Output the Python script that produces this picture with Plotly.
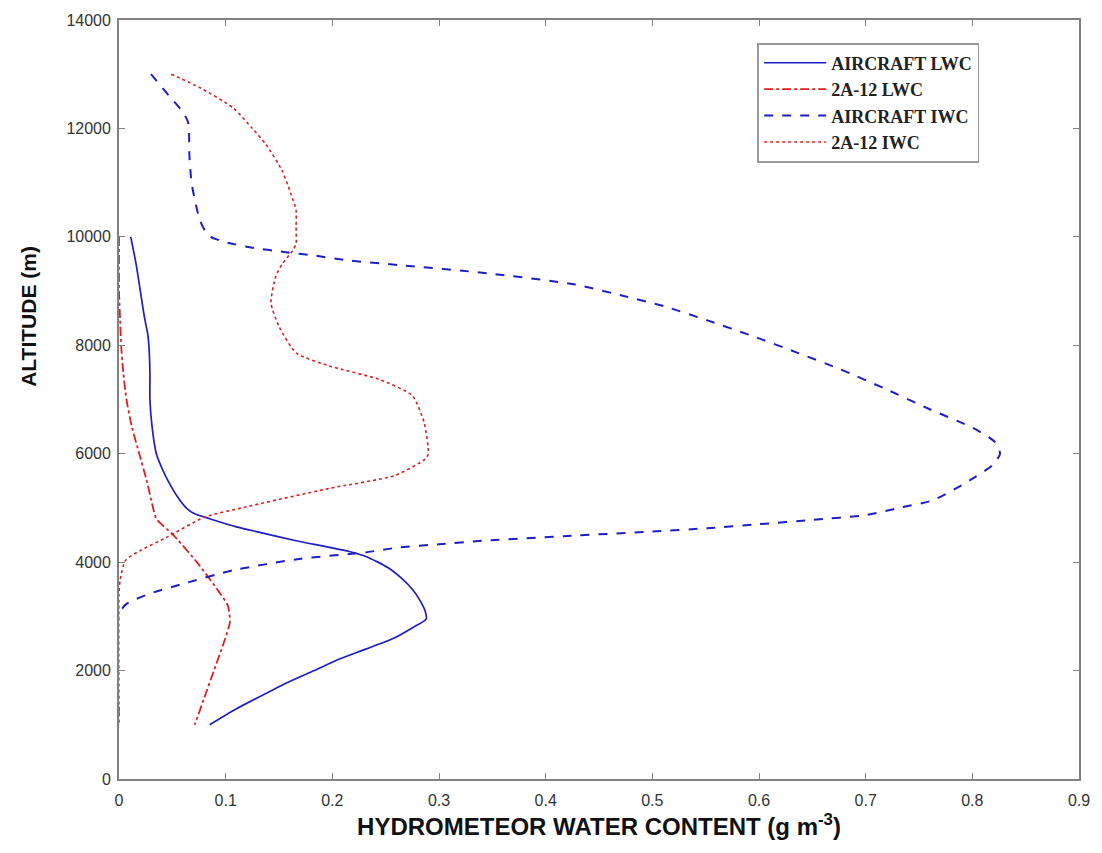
import plotly.graph_objects as go

# Aircraft-measured liquid water content profile (g m^-3 vs altitude m)
air_lwc_alt = [10000, 9500, 9000, 8500, 8200, 8000, 7500, 7000, 6500, 6000, 5700, 5500,
               5200, 5000, 4900, 4800, 4650, 4550, 4400, 4200, 4100, 3900, 3700, 3500,
               3300, 3100, 2950, 2800, 2600, 2400, 2200, 2000, 1800, 1500, 1250, 1000]
air_lwc_val = [0.011, 0.016, 0.020, 0.024, 0.027, 0.028, 0.029, 0.029, 0.031, 0.035, 0.041, 0.046,
               0.055, 0.063, 0.070, 0.085, 0.110, 0.132, 0.165, 0.215, 0.232, 0.252, 0.265, 0.275,
               0.282, 0.287, 0.288, 0.276, 0.258, 0.232, 0.205, 0.183, 0.160, 0.130, 0.106, 0.085]

# 2A-12 retrieved liquid water content profile
tr_lwc_alt = [10000, 9500, 9000, 8500, 8000, 7500, 7000, 6500, 6000, 5500, 5000, 4800,
              4500, 4000, 3500, 3200, 2900, 2500, 2000, 1500, 1000]
tr_lwc_val = [0.0, 0.0, 0.0, 0.001, 0.002, 0.004, 0.007, 0.012, 0.019, 0.026, 0.032, 0.035,
              0.051, 0.073, 0.092, 0.102, 0.104, 0.098, 0.089, 0.080, 0.071]

# Aircraft-measured ice water content profile
air_iwc_alt = [13000, 12600, 12300, 12100, 11500, 11000, 10600, 10300, 10100, 10000, 9900, 9800,
               9725, 9650, 9571, 9480, 9330, 9120, 8900, 8720, 8450, 8170, 7870, 7560, 7200,
               6830, 6470, 6220, 6000, 5790, 5550, 5420, 5140, 5000, 4870, 4780, 4700, 4625,
               4565, 4490, 4400, 4330, 4270, 4180, 4060, 3850, 3600, 3420, 3230, 3050, 1000]
air_iwc_val = [0.030, 0.047, 0.060, 0.065, 0.066, 0.068, 0.072, 0.076, 0.081, 0.086, 0.100, 0.125,
               0.153, 0.185, 0.2125, 0.262, 0.345, 0.428, 0.475, 0.511, 0.553, 0.594, 0.635, 0.676, 0.718,
               0.759, 0.801, 0.821, 0.826, 0.819, 0.801, 0.790, 0.763, 0.731, 0.701, 0.651, 0.600, 0.551,
               0.500, 0.428, 0.345, 0.300, 0.262, 0.231, 0.169, 0.107, 0.060, 0.029, 0.007, 0.0, 0.0]

# 2A-12 retrieved ice water content profile
tr_iwc_alt = [13000, 12750, 12380, 12000, 11700, 11220, 10800, 10490, 10180, 9880, 9750, 9500,
              9270, 8780, 8350, 7860, 7620, 7370, 7070, 6580, 6000, 5900, 5600, 5360, 5000,
              4830, 4460, 4215, 4030, 3660, 3400, 1000]
tr_iwc_val = [0.049, 0.076, 0.107, 0.125, 0.138, 0.153, 0.161, 0.166, 0.166, 0.166, 0.163, 0.153,
              0.147, 0.1425, 0.150, 0.166, 0.197, 0.244, 0.275, 0.286, 0.290, 0.287, 0.259, 0.197, 0.115,
              0.080, 0.045, 0.020, 0.006, 0.001, 0.0, 0.0]

BLUE = "rgb(30,30,195)"
RED = "rgb(225,30,30)"
SMOOTH = 0.6

fig = go.Figure()
fig.add_trace(go.Scatter(x=air_lwc_val, y=air_lwc_alt, mode="lines", name="AIRCRAFT LWC",
                         line=dict(color=BLUE, width=1.7, dash="solid", shape="spline", smoothing=SMOOTH)))
fig.add_trace(go.Scatter(x=tr_lwc_val, y=tr_lwc_alt, mode="lines", name="2A-12 LWC",
                         line=dict(color=RED, width=1.8, dash="dashdot", shape="spline", smoothing=SMOOTH)))
fig.add_trace(go.Scatter(x=air_iwc_val, y=air_iwc_alt, mode="lines", name="AIRCRAFT IWC",
                         line=dict(color=BLUE, width=2, dash="dash", shape="spline", smoothing=SMOOTH)))
fig.add_trace(go.Scatter(x=tr_iwc_val, y=tr_iwc_alt, mode="lines", name="2A-12 IWC",
                         line=dict(color=RED, width=1.6, dash="dot", shape="spline", smoothing=SMOOTH)))

axis_common = dict(
    showgrid=False, zeroline=False, showline=True, linecolor="#808080", linewidth=1.8,
    mirror="allticks", ticks="inside", ticklen=6, tickcolor="#808080", tickwidth=1.2,
    tickfont=dict(family="Liberation Sans", size=16, color="#333333"),
)

fig.update_layout(
    width=1102, height=853,
    margin=dict(l=119, r=19, t=15, b=74),
    paper_bgcolor="white", plot_bgcolor="white",
    xaxis=dict(range=[0, 0.9], dtick=0.1, tick0=0, ticklabelstandoff=6,
               title=dict(text="HYDROMETEOR WATER CONTENT (g m<sup>-3</sup>)", standoff=10,
                          font=dict(family="Liberation Sans", size=24, color="#111111", weight="bold")),
               **axis_common),
    yaxis=dict(range=[0, 14000], dtick=2000, tick0=0, tickformat="d", ticklabelstandoff=3,
               **axis_common),
    legend=dict(x=0.665, y=0.97, xanchor="left", yanchor="top",
                bgcolor="white", bordercolor="#999999", borderwidth=1.8,
                font=dict(family="Liberation Serif", size=18, color="#222222", weight="bold"),
                tracegroupgap=0, itemwidth=62),
    showlegend=True,
    annotations=[dict(text="ALTITUDE (m)", textangle=-90, xref="paper", yref="paper",
                      x=-0.095, y=0.61, xanchor="center", yanchor="middle", showarrow=False,
                      font=dict(family="Liberation Sans", size=21, color="#111111", weight="bold"))],
)

fig.write_html("out.html")
